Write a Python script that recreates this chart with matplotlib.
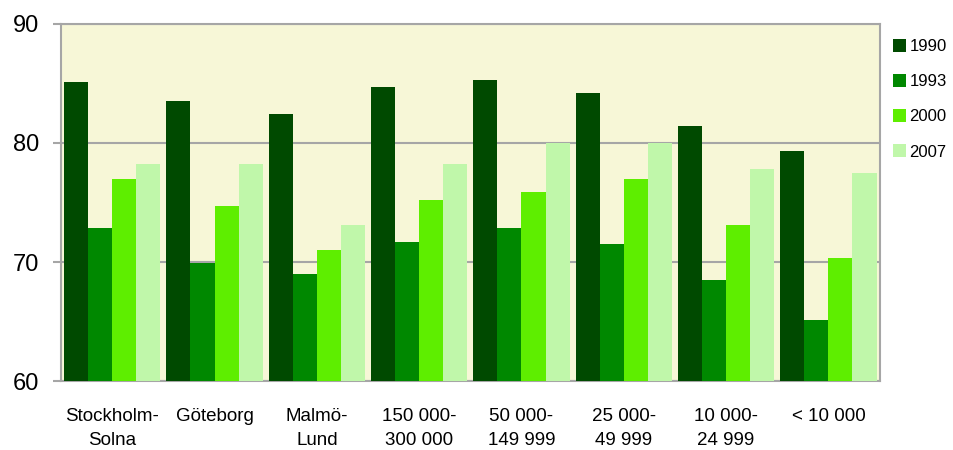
import numpy as np
import matplotlib
matplotlib.use("Agg")
import matplotlib.pyplot as plt

plt.rcParams['font.family'] = ['Liberation Sans', 'DejaVu Sans']

CATEGORIES = ["Stockholm-\nSolna", "Göteborg", "Malmö-\nLund", "150 000-\n300 000",
              "50 000-\n149 999", "25 000-\n49 999", "10 000-\n24 999", "< 10 000"]
YEARS = ["1990", "1993", "2000", "2007"]
V1990 = [85.1, 83.5, 82.4, 84.7, 85.3, 84.2, 81.4, 79.3]
V1993 = [72.9, 69.9, 69.0, 71.7, 72.9, 71.5, 68.5, 65.1]
V2000 = [77.0, 74.7, 71.0, 75.2, 75.9, 77.0, 73.1, 70.3]
V2007 = [78.2, 78.2, 73.1, 78.2, 80.0, 80.0, 77.8, 77.5]
COLORS = ["#004a00", "#008800", "#5eee00", "#c0f7aa"]

fig = plt.figure(figsize=(9.54, 4.5), dpi=100)
ax = fig.add_axes([0.064, 0.153, 0.858, 0.794])
ax.set_facecolor("#f7f7d7")

x = np.arange(len(CATEGORIES))
w = 0.235
series = [V1990, V1993, V2000, V2007]
for i, (vals, col, lab) in enumerate(zip(series, COLORS, YEARS)):
    ax.bar(x + (i - 1.5) * w, np.array(vals) - 60, bottom=60, width=w,
           color=col, label=lab, zorder=3)

ax.set_xlim(-0.5, len(CATEGORIES) - 0.5)
ax.set_ylim(60, 90)
ax.set_yticks([60, 70, 80, 90])
ax.yaxis.grid(True, color="#a6a6a6", linewidth=1.5, zorder=1)
ax.set_xticks(x)
ax.set_xticklabels(CATEGORIES, fontsize=13.5, linespacing=1.55)
ax.tick_params(axis='x', length=0, pad=19)
ax.tick_params(axis='y', length=5.8, width=1.5, color="#a6a6a6", labelsize=17, pad=10)
for s in ax.spines.values():
    s.set_color("#a6a6a6")
    s.set_linewidth(1.5)

ax.legend(loc="upper left", bbox_to_anchor=(0.998, 1.0), frameon=False,
          fontsize=12, handlelength=0.8, handleheight=0.8,
          labelspacing=1.2, handletextpad=0.2)

fig.savefig("out.png", dpi=100)
